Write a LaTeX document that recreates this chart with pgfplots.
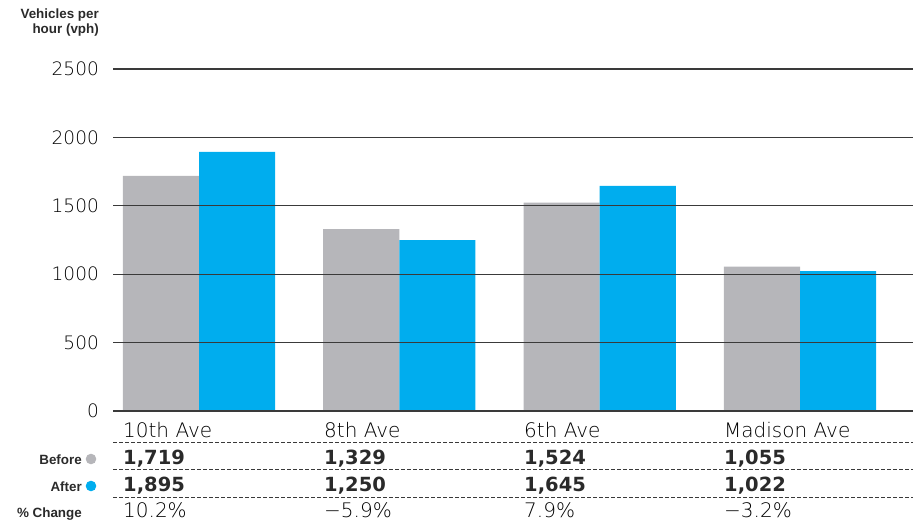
\documentclass[border=0pt]{standalone}
\usepackage{pgfplots}
\pgfplotsset{compat=1.18}
\usepackage{fontspec}
\setmainfont{DejaVu Sans}
\newfontfamily\light{DejaVu Sans ExtraLight}
\newfontfamily\lab{Liberation Sans}

\definecolor{before}{HTML}{B6B6BA}
\definecolor{after}{HTML}{00ADEE}
\definecolor{gridc}{HTML}{3A3A3A}
\definecolor{txt}{HTML}{2A2A2A}

\begin{document}
\begin{tikzpicture}
\useasboundingbox (0pt,0pt) rectangle (913pt,-523pt);
\begin{axis}[
  at={(113pt,-411pt)}, anchor=south west,
  scale only axis, width=800pt, height=342pt,
  xmin=-0.4293, xmax=3.564, ymin=0, ymax=2500,
  ytick={0,500,1000,1500,2000,2500},
  xtick=\empty,
  axis line style={draw=none},
  major tick length=0pt,
  ymajorgrids, grid style={gridc, line width=1.1pt},
  axis on top,
  /pgf/number format/assume math mode=true,
  /pgf/number format/1000 sep={},
  yticklabel style={font=\light\fontsize{18.5}{20}\selectfont, text=black, inner sep=0pt, xshift=-14pt},
  clip=false,
]
\addplot[ybar, bar width=0.38, bar shift=-0.19, fill=before, draw=none]
  coordinates {(0,1719) (1,1329) (2,1524) (3,1055)};
\addplot[ybar, bar width=0.38, bar shift=0.19, fill=after, draw=none]
  coordinates {(0,1895) (1,1250) (2,1645) (3,1022)};
\draw[black, line width=2.6pt] (axis cs:-0.4293,0) -- (axis cs:3.564,0);
\end{axis}

% y axis title
\node[anchor=base east, inner sep=0, font=\lab\bfseries\fontsize{13.4}{15}\selectfont, text=txt] at (99pt,-18pt) {Vehicles per};
\node[anchor=base east, inner sep=0, font=\lab\bfseries\fontsize{13.4}{15}\selectfont, text=txt] at (99pt,-33pt) {hour (vph)};

% table rules
\foreach \yy in {442,469,497}
  \draw[gridc, line width=1pt, dash pattern=on 3.5pt off 2.5pt] (113pt,-\yy pt) -- (913pt,-\yy pt);

% row labels
\node[anchor=base east, inner sep=0, font=\lab\bfseries\fontsize{13.4}{15}\selectfont, text=txt] at (82pt,-464pt) {Before};
\node[anchor=base east, inner sep=0, font=\lab\bfseries\fontsize{13.4}{15}\selectfont, text=txt] at (82pt,-491pt) {After};
\node[anchor=base east, inner sep=0, font=\lab\bfseries\fontsize{13.4}{15}\selectfont, text=txt] at (82pt,-517pt) {\% Change};
\fill[before] (91pt,-459pt) circle (5.3pt);
\fill[after] (91pt,-486pt) circle (5.3pt);

% table cells
\foreach \xx/\cat/\bv/\av/\pc in {123/10th Ave/{1,719}/{1,895}/10.2\%,
                                  324/8th Ave/{1,329}/{1,250}/−5.9\%,
                                  524/6th Ave/{1,524}/{1,645}/7.9\%,
                                  724/Madison Ave/{1,055}/{1,022}/−3.2\%}{
  \node[anchor=base west, inner sep=0, font=\light\fontsize{20}{22}\selectfont, text=black] at (\xx pt,-437pt) {\cat};
  \node[anchor=base west, inner sep=0, font=\bfseries\fontsize{19.5}{21}\selectfont, text=txt] at (\xx pt,-464pt) {\bv};
  \node[anchor=base west, inner sep=0, font=\bfseries\fontsize{19.5}{21}\selectfont, text=txt] at (\xx pt,-491pt) {\av};
  \node[anchor=base west, inner sep=0, font=\light\fontsize{20}{22}\selectfont, text=black] at (\xx pt,-517pt) {\pc};
}
\end{tikzpicture}
\end{document}
